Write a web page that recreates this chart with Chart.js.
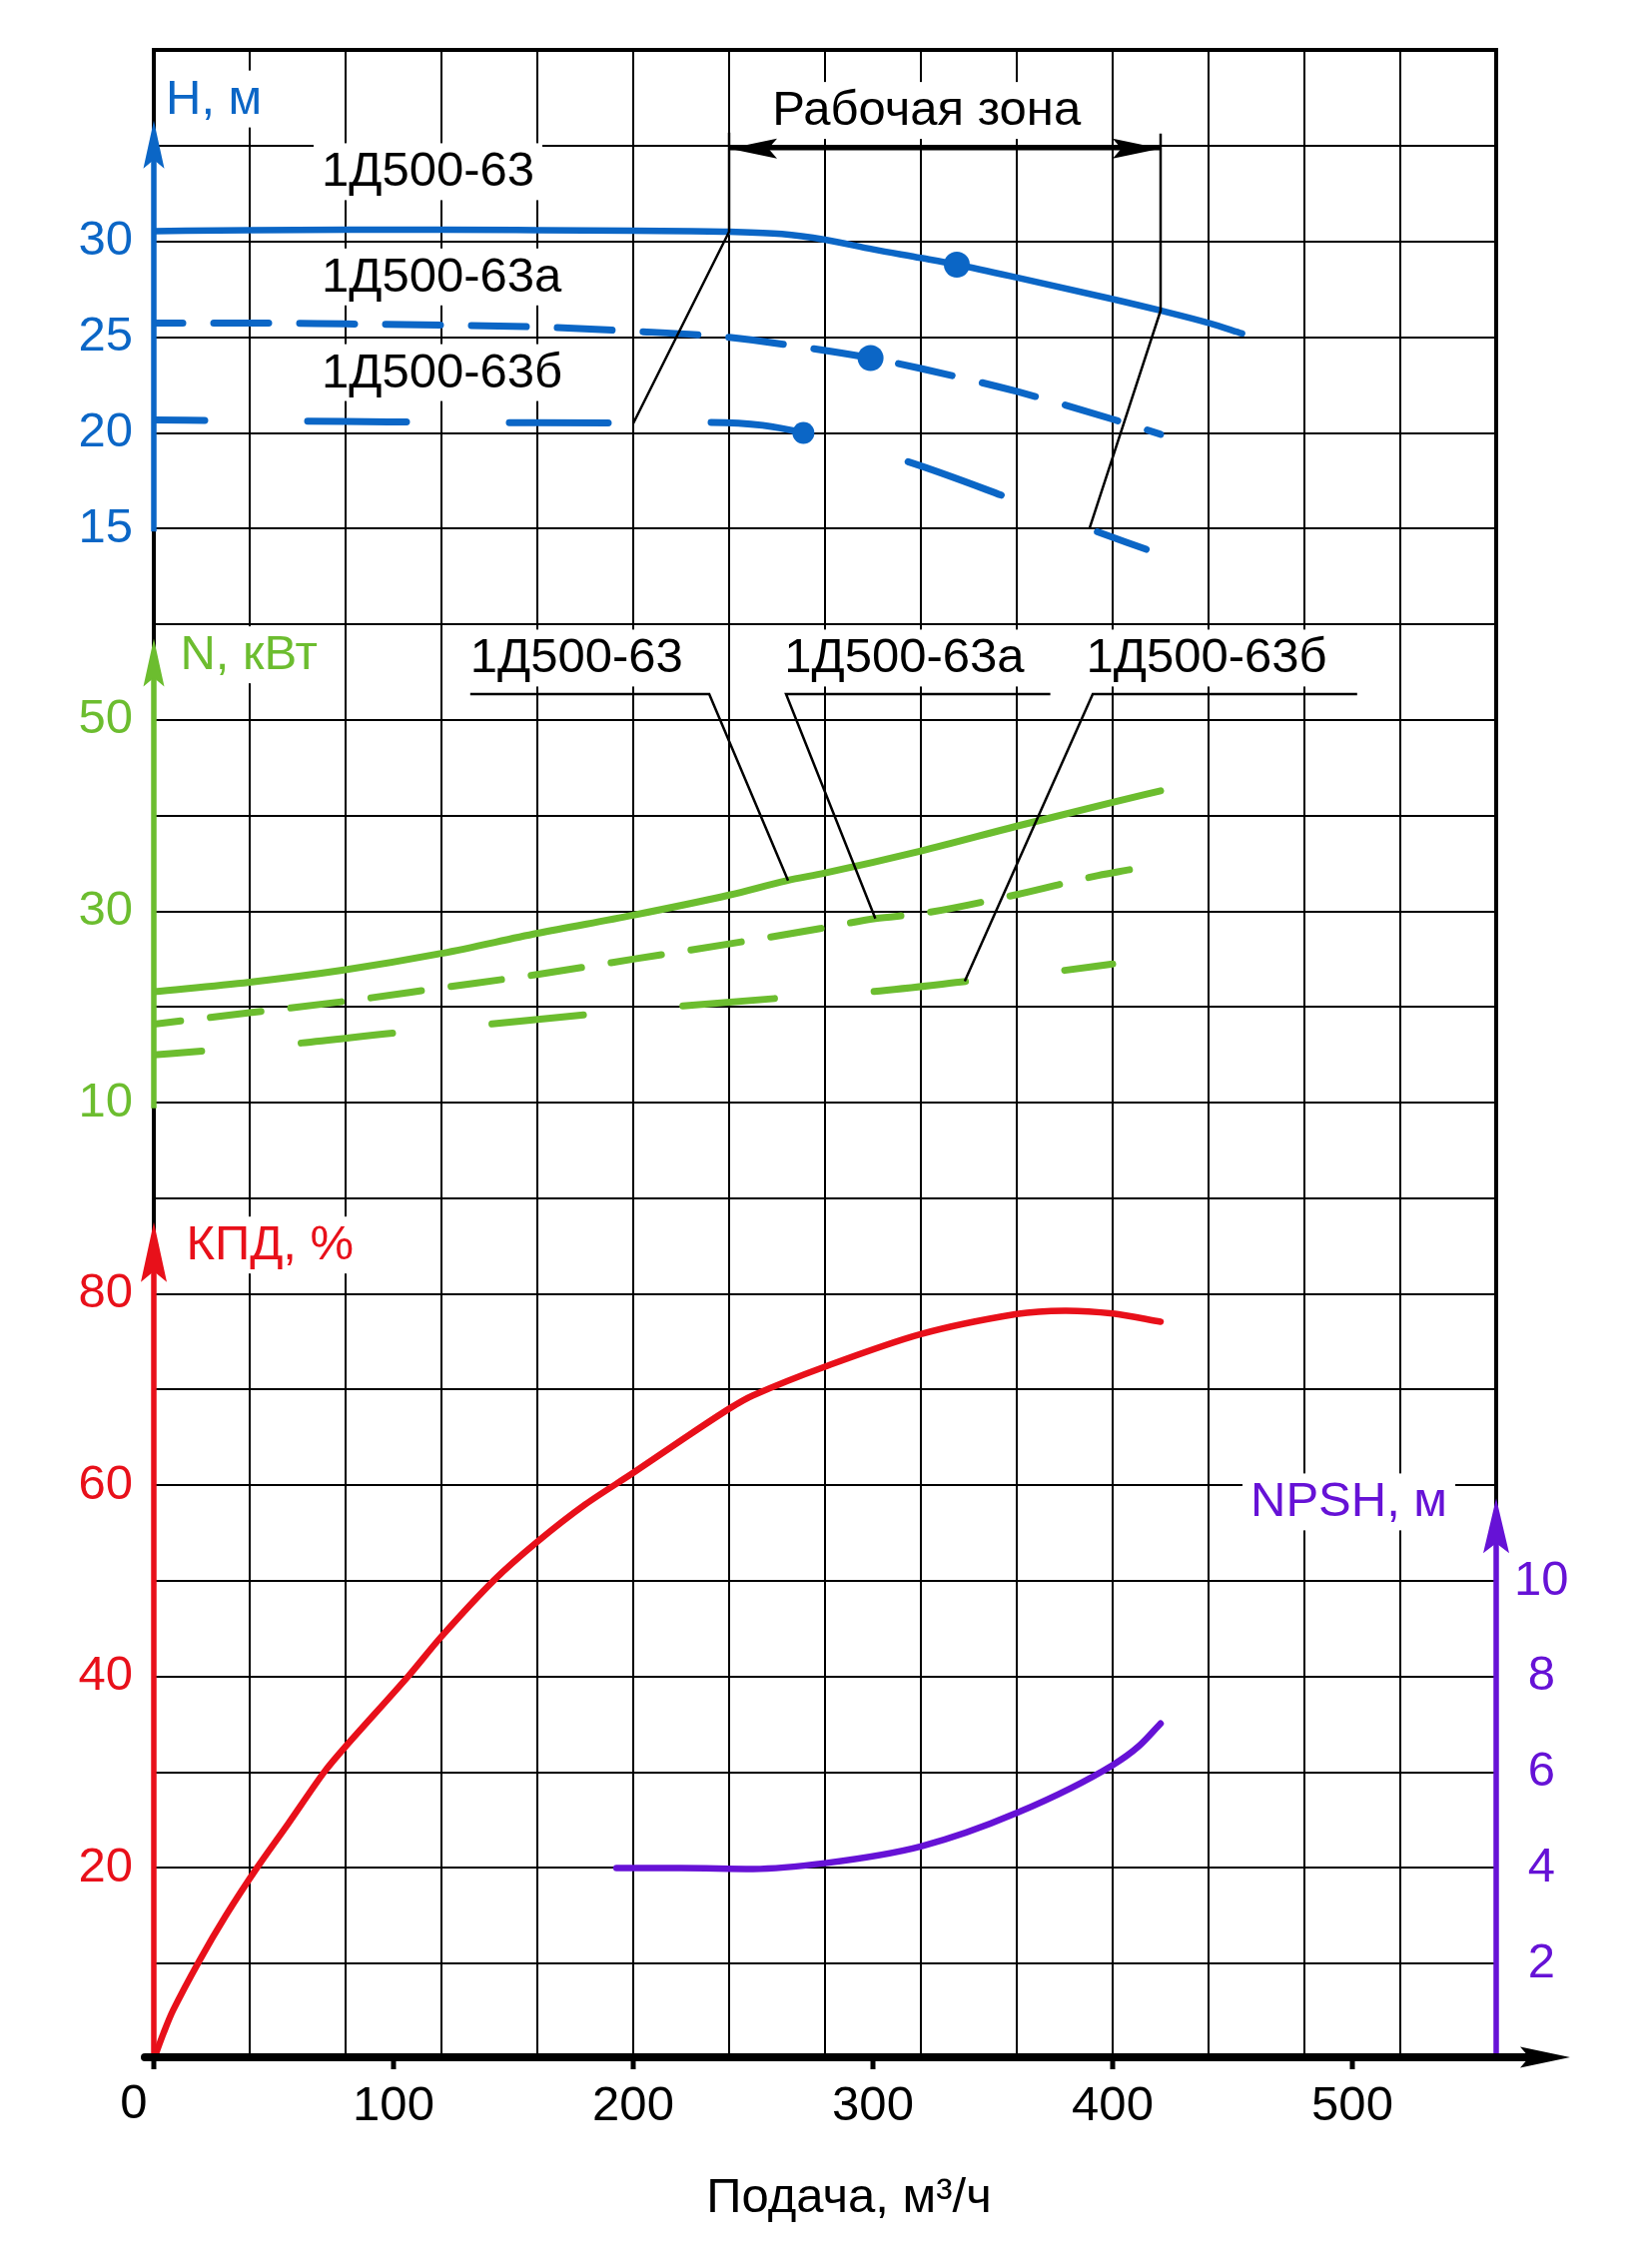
<!DOCTYPE html>
<html><head><meta charset="utf-8">
<script src="https://cdn.jsdelivr.net/npm/chart.js@4.4.1/dist/chart.umd.min.js"></script>
<style>html,body{margin:0;padding:0;background:#fff}canvas{display:block}</style>
</head><body>
<canvas id="c" width="1650" height="2271"></canvas>
<script>
const FONT = "'Liberation Sans', Arial, sans-serif";
const FS = 49;
const BLUE = '#0b66c6', GREEN = '#6cbd2f', RED = '#e8101a', PURPLE = '#6612d6';

// tick labels
const xTicks = [0, 100, 200, 300, 400, 500];
const hTicks = [15, 20, 25, 30];
const nTicks = [10, 30, 50];
const kpdTicks = [20, 40, 60, 80];
const npshTicks = [2, 4, 6, 8, 10];

// head H, m
const qH63 = [0, 40, 80, 120, 160, 200, 240, 262, 280, 300, 320, 335, 360, 400, 420, 440, 454];
const H63  = [30.55, 30.6, 30.62, 30.62, 30.6, 30.57, 30.52, 30.4, 30.1, 29.6, 29.15, 28.8, 28.13, 27.0, 26.4, 25.75, 25.2];
const qH63a = [0, 40, 80, 120, 160, 200, 240, 270, 299, 320, 360, 400, 420];
const H63a  = [25.75, 25.75, 25.7, 25.64, 25.54, 25.32, 25.0, 24.5, 23.92, 23.37, 22.17, 20.72, 19.93];
const qH63b = [0, 40, 80, 120, 160, 200, 231, 254, 271, 314, 355, 390, 414];
const H63b  = [20.68, 20.63, 20.6, 20.56, 20.54, 20.53, 20.55, 20.4, 20.0, 18.52, 16.68, 15.0, 13.92];
const markQ = [335, 299, 271];   // best-efficiency points on H curves

// power N, kW
const qN63 = [0, 40, 80, 120, 160, 200, 240, 264, 280, 320, 360, 400, 420];
const N63  = [21.6, 22.6, 23.9, 25.6, 27.7, 29.6, 31.7, 33.2, 34.0, 36.3, 38.9, 41.4, 42.6];
const qN63a = [0, 40, 80, 120, 160, 200, 240, 278, 301, 320, 360, 394, 407];
const N63a  = [18.2, 19.4, 20.6, 22.0, 23.4, 25.0, 26.6, 28.2, 29.24, 29.76, 31.75, 33.75, 34.35];
const qN63b = [0, 21, 60, 101, 140, 180, 220, 260, 299, 340, 379, 400];
const N63b  = [15.0, 15.4, 16.2, 17.3, 18.2, 19.2, 20.1, 20.9, 21.6, 22.7, 23.8, 24.5];

// efficiency, %
const qKPD = [0, 4, 8, 19, 30, 43, 56, 71, 80, 106, 120, 142, 160, 180, 200, 220, 240, 250, 280, 320, 360, 380, 400, 420];
const KPD  = [0, 2.7, 5.1, 10.3, 15.0, 20.0, 24.6, 30.0, 32.7, 40.0, 44.2, 50.1, 54.1, 58.0, 61.3, 64.7, 68.0, 69.4, 72.4, 75.8, 77.9, 78.25, 77.95, 77.1];

// NPSH, m
const qNPSH = [193, 220, 250, 280, 320, 360, 400, 411, 420];
const NPSH  = [4.0, 4.0, 3.98, 4.1, 4.45, 5.15, 6.15, 6.55, 7.02];

// working zone and leader lines
const zoneLeftQ = [240, 240, 200],  zoneLeftH = [35.7, 30.52, 20.5];
const zoneRightQ = [420, 420, 390.3], zoneRightH = [35.65, 26.4, 15.0];
const zoneArrowQ = [240, 420], zoneArrowH = [34.86, 34.86];
const leadN63Q = [132, 231.7, 264.6],  leadN63V = [52.7, 52.7, 33.2];
const leadN63aQ = [374, 263.75, 301],  leadN63aV = [52.7, 52.7, 29.24];
const leadN63bQ = [502, 391.7, 338.3], leadN63bV = [52.7, 52.7, 22.7];

// axis ranges (21 rows x 14 columns grid)
const X_MIN = 0, X_MAX = 560;
const K_MIN = 0, K_MAX = 210, H_MIN = -65, H_MAX = 40, N_MIN = -90, N_MAX = 120, P_MIN = 0, P_MAX = 42;

function pts(q, v) { return q.map((x, i) => ({x: x, y: v[i]})); }
function conv(v, a0, a1, b0, b1) { return b0 + (v - a0) * (b1 - b0) / (a1 - a0); }
function near(arr, x) { return arr.find(t => Math.abs(t - x) < 1e-6); }
function leftTick(v) {
  const h = conv(v, K_MIN, K_MAX, H_MIN, H_MAX), n = conv(v, K_MIN, K_MAX, N_MIN, N_MAX);
  let t;
  if ((t = near(hTicks, h)) !== undefined) return {text: String(t), color: BLUE};
  if ((t = near(nTicks, n)) !== undefined) return {text: String(t), color: GREEN};
  if ((t = near(kpdTicks, v)) !== undefined) return {text: String(t), color: RED};
  return {text: '', color: '#000'};
}

const curve = (label, q, v, axis, color, extra) => Object.assign({
  label: label, data: pts(q, v), yAxisID: axis, borderColor: color, backgroundColor: color,
  borderWidth: 7, pointRadius: 0, fill: false, cubicInterpolationMode: 'monotone',
  borderCapStyle: 'round', borderJoinStyle: 'round'
}, extra || {});
const leader = (q, v, axis, w) => ({
  data: pts(q, v), yAxisID: axis, borderColor: '#000', borderWidth: w || 2.5,
  pointRadius: 0, fill: false, tension: 0, order: -1
});
const markR = (q, m, r) => q.map(x => x === m ? r : 0);

const datasets = [
  curve('1Д500-63 H', qH63, H63, 'yH', BLUE, {borderWidth: 6.5, pointRadius: markR(qH63, markQ[0], 13), pointBorderWidth: 0, pointBackgroundColor: BLUE}),
  curve('1Д500-63а H', qH63a, H63a, 'yH', BLUE, {borderDash: [55, 31], borderDashOffset: 26, pointRadius: markR(qH63a, markQ[1], 13), pointBorderWidth: 0, pointBackgroundColor: BLUE}),
  curve('1Д500-63б H', qH63b, H63b, 'yH', BLUE, {borderDash: [99, 103], borderDashOffset: 48, pointRadius: markR(qH63b, markQ[2], 11), pointBorderWidth: 0, pointBackgroundColor: BLUE}),
  curve('1Д500-63 N', qN63, N63, 'yN', GREEN),
  curve('1Д500-63а N', qN63a, N63a, 'yN', GREEN, {borderDash: [51, 30], borderDashOffset: 24}),
  curve('1Д500-63б N', qN63b, N63b, 'yN', GREEN, {borderDash: [92, 100], borderDashOffset: 44}),
  curve('КПД', qKPD, KPD, 'y', RED, {borderWidth: 6.5, cubicInterpolationMode: 'default', tension: 0.3}),
  curve('NPSH', qNPSH, NPSH, 'yP', PURPLE, {borderWidth: 6.5}),
  leader(zoneLeftQ, zoneLeftH, 'yH'),
  leader(zoneRightQ, zoneRightH, 'yH'),
  leader(zoneArrowQ, zoneArrowH, 'yH', 3.5),
  leader(leadN63Q, leadN63V, 'yN'),
  leader(leadN63aQ, leadN63aV, 'yN'),
  leader(leadN63bQ, leadN63bV, 'yN')
];

const textLabels = [
  {text: 'H, м', q: 5.0, axis: 'yH', v: 36.7, color: BLUE},
  {text: '1Д500-63', q: 70, axis: 'yH', v: 32.9, color: '#000'},
  {text: '1Д500-63а', q: 70, axis: 'yH', v: 27.4, color: '#000'},
  {text: '1Д500-63б', q: 70, axis: 'yH', v: 22.4, color: '#000'},
  {text: 'Рабочая зона', q: 258, axis: 'yH', v: 36.1, color: '#000'},
  {text: 'N, кВт', q: 11.0, axis: 'yN', v: 55.3, color: GREEN},
  {text: '1Д500-63', q: 132, axis: 'yN', v: 54.96, color: '#000'},
  {text: '1Д500-63а', q: 263, axis: 'yN', v: 54.96, color: '#000'},
  {text: '1Д500-63б', q: 389, axis: 'yN', v: 54.96, color: '#000'},
  {text: 'КПД, %', q: 13.5, axis: 'y', v: 83.6, color: RED},
  {text: 'NPSH, м', q: 457.5, axis: 'yP', v: 11.35, color: PURPLE}
];
const axisArrows = [
  {axis: 'yH', q: 0, from: 14.85, to: 36.33, len: 48, hw: 10.5, color: BLUE},
  {axis: 'yN', q: 0, from: 9.4, to: 58.5, len: 48, hw: 10.5, color: GREEN},
  {axis: 'y', q: 0, from: 0, to: 87.5, len: 60, hw: 13, color: RED},
  {axis: 'yP', q: 560, from: 0, to: 11.73, len: 55, hw: 13, color: PURPLE}
];
const xTitle = 'Подача, м³/ч';

function arrowHead(ctx, tx, ty, dx, dy, len, hw, color) {
  const bx = tx - dx * len, by = ty - dy * len, px = -dy, py = dx;
  ctx.beginPath();
  ctx.moveTo(tx, ty);
  ctx.lineTo(bx + px * hw, by + py * hw);
  ctx.lineTo(tx - dx * len * 0.82, ty - dy * len * 0.82);
  ctx.lineTo(bx - px * hw, by - py * hw);
  ctx.closePath();
  ctx.fillStyle = color;
  ctx.fill();
}

const overlay = {
  id: 'overlay',
  beforeDatasetsDraw(chart) {
    const ctx = chart.ctx, sx = chart.scales.x;
    ctx.save();
    ctx.font = FS + 'px ' + FONT;
    ctx.textAlign = 'left';
    ctx.textBaseline = 'alphabetic';
    textLabels.forEach(l => {
      const x = sx.getPixelForValue(l.q), y = chart.scales[l.axis].getPixelForValue(l.v);
      const w = ctx.measureText(l.text).width;
      ctx.fillStyle = '#fff';
      ctx.fillRect(x - 8, y - 43, w + 16, 57);
      ctx.fillStyle = l.color;
      ctx.fillText(l.text, x, y);
    });
    ctx.restore();
  },
  afterDatasetsDraw(chart) {
    const ctx = chart.ctx, sx = chart.scales.x, ca = chart.chartArea;
    ctx.save();
    axisArrows.forEach(a => {
      const sc = chart.scales[a.axis], x = sx.getPixelForValue(a.q);
      const y0 = sc.getPixelForValue(a.from), y1 = sc.getPixelForValue(a.to);
      ctx.strokeStyle = a.color; ctx.lineWidth = 5.5; ctx.lineCap = 'butt';
      ctx.beginPath(); ctx.moveTo(x, y0); ctx.lineTo(x, y1 + a.len * 0.7); ctx.stroke();
      arrowHead(ctx, x, y1, 0, -1, a.len, a.hw, a.color);
    });
    const yA = ca.bottom - 2;
    const xL = sx.getPixelForValue(X_MIN) - 9, xR = sx.getPixelForValue(X_MAX) + 74;
    ctx.strokeStyle = '#000'; ctx.lineWidth = 8; ctx.lineCap = 'round';
    ctx.beginPath(); ctx.moveTo(xL, yA); ctx.lineTo(xR - 30, yA); ctx.stroke();
    arrowHead(ctx, xR, yA, 1, 0, 50, 10.5, '#000');
    const sh = chart.scales.yH, ya = sh.getPixelForValue(zoneArrowH[0]);
    arrowHead(ctx, sx.getPixelForValue(zoneArrowQ[0]), ya, -1, 0, 48, 10, '#000');
    arrowHead(ctx, sx.getPixelForValue(zoneArrowQ[1]), ya, 1, 0, 48, 10, '#000');
    ctx.font = FS + 'px ' + FONT; ctx.fillStyle = '#000'; ctx.textBaseline = 'alphabetic';
    ctx.textAlign = 'center';
    ctx.fillText(String(xTicks[0]), sx.getPixelForValue(xTicks[0]) - 20, ca.bottom + 59);
    ctx.fillText(xTitle, sx.getPixelForValue(290), ca.bottom + 153);
    ctx.restore();
  }
};

const tickFont = {family: FONT, size: FS};
new Chart(document.getElementById('c'), {
  type: 'line',
  data: {datasets: datasets},
  plugins: [overlay],
  options: {
    responsive: false, animation: false, devicePixelRatio: 1,
    layout: {padding: {top: 46, left: 0, right: 0, bottom: 0}},
    plugins: {legend: {display: false}, tooltip: {enabled: false}, title: {display: false}},
    scales: {
      x: {
        type: 'linear', position: 'bottom', min: X_MIN, max: X_MAX,
        afterFit: s => { s.height = 2271 - 46 - 2016; },
        ticks: {
          stepSize: 20, autoSkip: false, maxRotation: 0, minRotation: 0, padding: 8,
          font: tickFont, color: '#000',
          callback: v => (near(xTicks, v) !== undefined && v !== xTicks[0]) ? String(Math.round(v)) : ''
        },
        grid: {
          lineWidth: 2, tickLength: 10, tickWidth: 5,
          color: c => { const v = Math.round(c.tick.value); return (v % 40 === 0 && v > X_MIN && v < X_MAX) ? '#000' : 'rgba(0,0,0,0)'; },
          tickColor: c => near(xTicks, c.tick.value) !== undefined ? '#000' : 'rgba(0,0,0,0)'
        },
        border: {display: false}
      },
      y: {
        type: 'linear', position: 'left', min: K_MIN, max: K_MAX,
        afterFit: s => { s.width = 154; },
        ticks: {
          stepSize: 10, autoSkip: false, padding: 21, font: tickFont,
          callback: v => leftTick(v).text,
          color: c => leftTick(c.tick.value).color
        },
        grid: {
          drawTicks: false, color: '#000',
          lineWidth: c => (c.tick && c.tick.value === K_MAX) ? 4 : 2
        },
        border: {display: true, color: '#000', width: 4}
      },
      yP: {
        type: 'linear', position: 'right', min: P_MIN, max: P_MAX,
        afterFit: s => { s.width = 1650 - 154 - 1344; },
        ticks: {
          stepSize: 2, autoSkip: false, padding: 18, crossAlign: 'center', font: tickFont, color: PURPLE,
          callback: v => near(npshTicks, v) !== undefined ? String(Math.round(v)) : ''
        },
        grid: {drawOnChartArea: false, drawTicks: false},
        border: {display: true, color: '#000', width: 4}
      },
      yH: {type: 'linear', display: false, min: H_MIN, max: H_MAX},
      yN: {type: 'linear', display: false, min: N_MIN, max: N_MAX}
    }
  }
});
</script>
</body></html>
